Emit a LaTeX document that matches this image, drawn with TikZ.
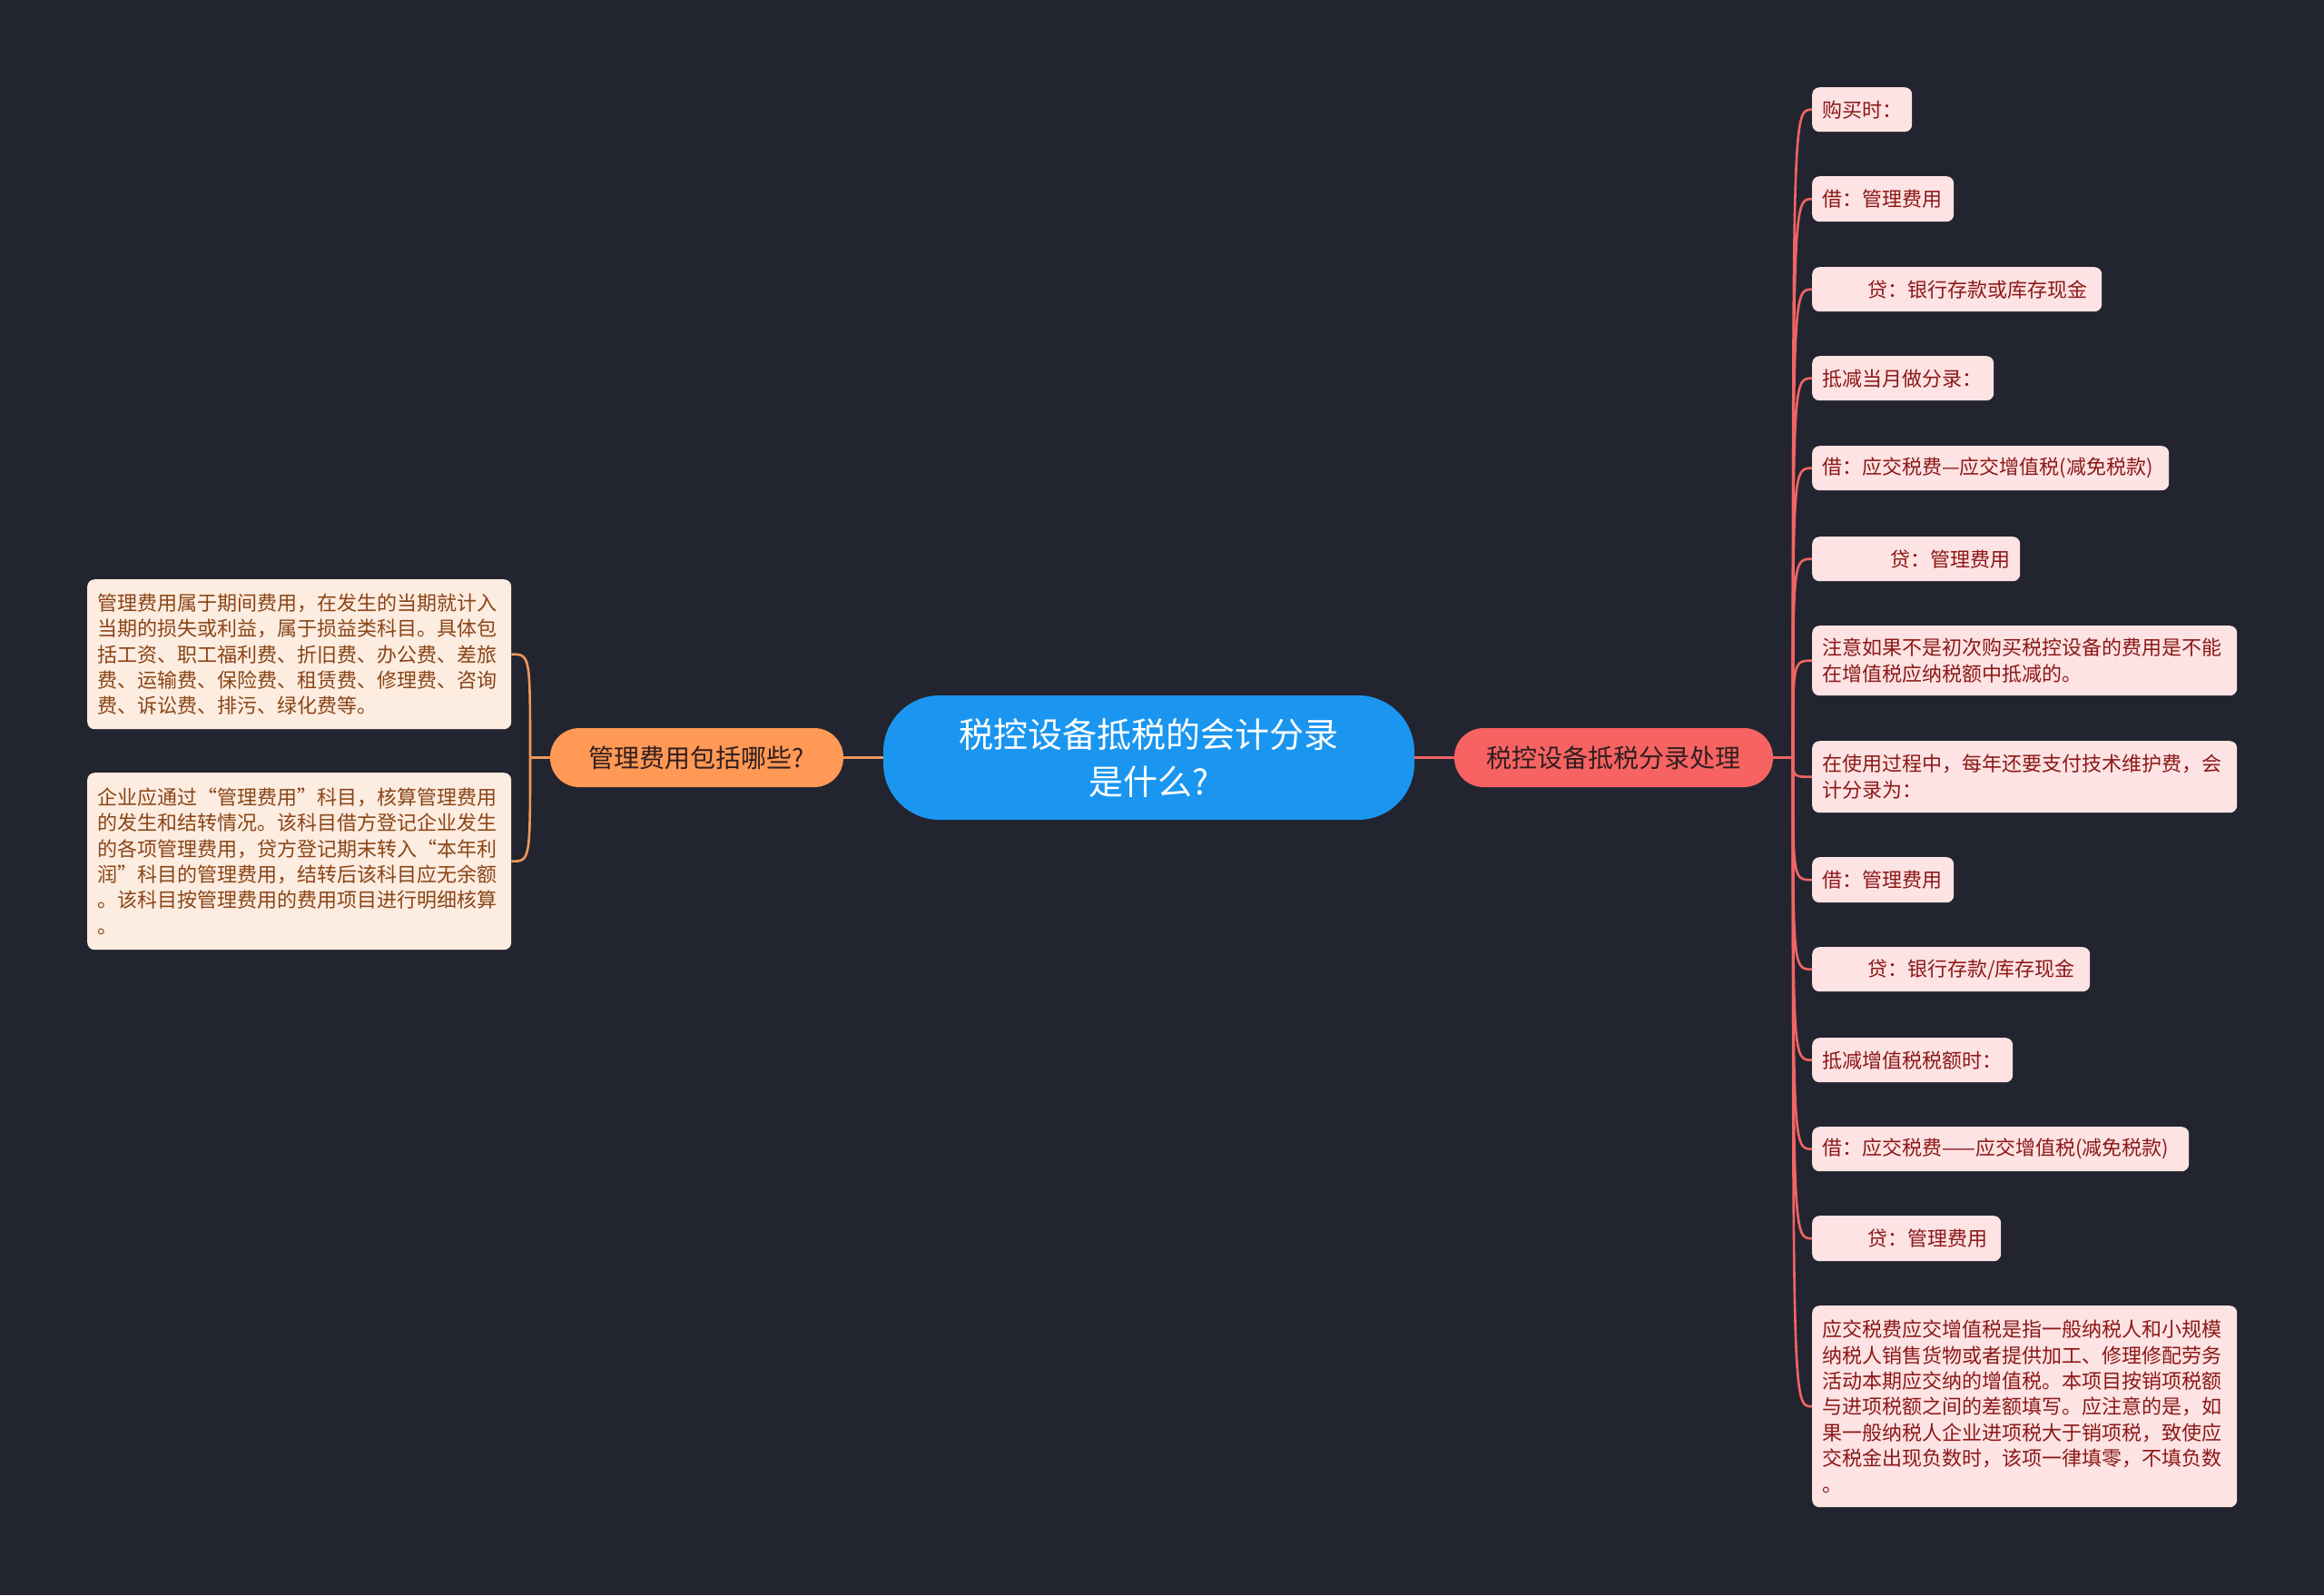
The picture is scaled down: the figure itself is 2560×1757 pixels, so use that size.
\documentclass[tikz,border=0pt]{standalone}
\usepackage{fontspec}
\newfontfamily\cjk{Noto Sans CJK SC}
\definecolor{bg}{RGB}{34,37,48}
\definecolor{cfill}{RGB}{26,150,240}
\definecolor{lbfill}{RGB}{255,153,85}
\definecolor{rbfill}{RGB}{247,99,99}
\definecolor{rleaffill}{RGB}{253,227,227}
\definecolor{rleaftext}{RGB}{140,24,24}
\definecolor{lleaffill}{RGB}{253,236,224}
\definecolor{lleaftext}{RGB}{138,69,23}
\definecolor{rlinecol}{RGB}{242,100,100}
\definecolor{llinecol}{RGB}{240,152,90}
\definecolor{btext}{RGB}{50,30,30}
\begin{document}
\begin{tikzpicture}[x=1pt,y=-1pt,
  centernode/.style={fill=cfill,text=white,rounded corners=62pt,minimum width=585pt,minimum height=137pt,align=center,inner sep=0pt,font=\cjk\fontsize{38}{52}\selectfont},
  branchnode/.style={rounded corners=32pt,minimum height=65pt,inner sep=0pt,text=btext,font=\cjk\fontsize{28}{34}\selectfont},
  rleaf/.style={fill=rleaffill,text=rleaftext,rounded corners=8pt,anchor=north west,inner xsep=11pt,inner ysep=0pt,align=left,font=\cjk\fontsize{22}{28.4}\selectfont},
  lleaf/.style={fill=lleaffill,text=lleaftext,rounded corners=8pt,anchor=north west,inner xsep=11pt,inner ysep=0pt,align=left,font=\cjk\fontsize{22}{28.4}\selectfont},
  rline/.style={draw=rlinecol,line width=2.6pt},
  lline/.style={draw=llinecol,line width=2.6pt}
]
\fill[bg] (0,0) rectangle (2560,1757);
\useasboundingbox (0,0) rectangle (2560,1757);

% center and branches
\node[centernode] (c) at (1265.5,834.5) {税控设备抵税的会计分录\\是什么?};
\node[branchnode,fill=lbfill,minimum width=323pt] (lb) at (767.5,834.5) {管理费用包括哪些?};
\node[branchnode,fill=rbfill,minimum width=351pt] (rb) at (1777.5,834.5) {税控设备抵税分录处理};
\coordinate (rs) at (1975,834.5);
\coordinate (ls) at (584,834.5);

% right leaves
\node[rleaf,text width=88pt,minimum height=49pt] (r1) at (1996,96) {购买时：};
\node[rleaf,text width=134pt,minimum height=50pt] (r2) at (1996,194) {借：管理费用};
\node[rleaf,text width=297pt,minimum height=49pt] (r3) at (1996,294) {\hspace*{50pt}贷：银行存款或库存现金};
\node[rleaf,text width=178pt,minimum height=49pt] (r4) at (1996,392) {抵减当月做分录：};
\node[rleaf,text width=371pt,minimum height=49pt] (r5) at (1996,491) {借：应交税费—应交增值税(减免税款)};
\node[rleaf,text width=207pt,minimum height=49pt] (r6) at (1996,591) {\hspace*{75pt}贷：管理费用};
\node[rleaf,text width=446pt,minimum height=77pt] (r7) at (1996,689) {注意如果不是初次购买税控设备的费用是不能\\在增值税应纳税额中抵减的。};
\node[rleaf,text width=446pt,minimum height=79pt] (r8) at (1996,816) {在使用过程中，每年还要支付技术维护费，会\\计分录为：};
\node[rleaf,text width=134pt,minimum height=50pt] (r9) at (1996,944) {借：管理费用};
\node[rleaf,text width=284pt,minimum height=49pt] (r10) at (1996,1043) {\hspace*{50pt}贷：银行存款/库存现金};
\node[rleaf,text width=199pt,minimum height=49pt] (r11) at (1996,1143) {抵减增值税税额时：};
\node[rleaf,text width=393pt,minimum height=49pt] (r12) at (1996,1241) {借：应交税费——应交增值税(减免税款)};
\node[rleaf,text width=186pt,minimum height=50pt] (r13) at (1996,1339) {\hspace*{50pt}贷：管理费用};
\node[rleaf,text width=446pt,minimum height=222pt] (r14) at (1996,1438) {应交税费应交增值税是指一般纳税人和小规模\\纳税人销售货物或者提供加工、修理修配劳务\\活动本期应交纳的增值税。本项目按销项税额\\与进项税额之间的差额填写。应注意的是，如\\果一般纳税人企业进项税大于销项税，致使应\\交税金出现负数时，该项一律填零，不填负数\\。};

% left leaves
\node[lleaf,text width=445pt,minimum height=165pt] (l1) at (96,638) {管理费用属于期间费用，在发生的当期就计入\\当期的损失或利益，属于损益类科目。具体包\\括工资、职工福利费、折旧费、办公费、差旅\\费、运输费、保险费、租赁费、修理费、咨询\\费、诉讼费、排污、绿化费等。};
\node[lleaf,text width=445pt,minimum height=195pt] (l2) at (96,851) {企业应通过“管理费用”科目，核算管理费用\\的发生和结转情况。该科目借方登记企业发生\\的各项管理费用，贷方登记期末转入“本年利\\润”科目的管理费用，结转后该科目应无余额\\。该科目按管理费用的费用项目进行明细核算\\。};

% connectors
\draw[lline] (c.west) -- (lb.east);
\draw[rline] (c.east) -- (rb.west);
\draw[rline] (rb.east) -- (rs);
\foreach \n in {r1,r2,r3,r4,r5,r6,r7,r8,r9,r10,r11,r12,r13,r14}{
  \draw[rline] (rs) .. controls (rs |- \n.west) and (rs |- \n.west) .. (\n.west);
}
\draw[lline] (lb.west) -- (ls);
\foreach \n in {l1,l2}{
  \draw[lline] (ls) .. controls (ls |- \n.east) and (ls |- \n.east) .. (\n.east);
}
\end{tikzpicture}
\end{document}
